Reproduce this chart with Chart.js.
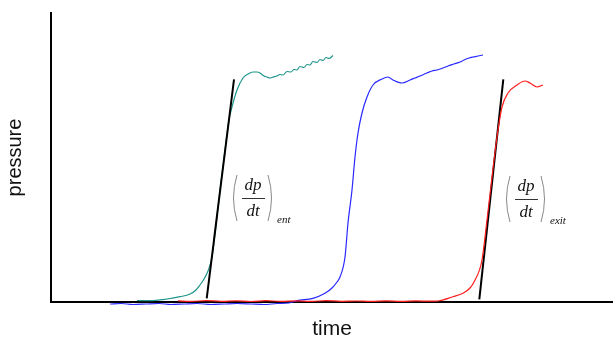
<!DOCTYPE html>
<html>
<head>
<meta charset="utf-8">
<script src="https://cdn.jsdelivr.net/npm/chart.js@4"></script>
<style>
  html, body { margin: 0; padding: 0; background: #fff; }
  #chartcontainer { width: 613px; height: 338px; }
</style>
</head>
<body>
<div id="chartcontainer"><canvas id="pressurechart"></canvas></div>
<script>
// pressure traces (time / pressure in arbitrary units)
var entTime = [86, 99, 116, 129, 139, 145, 149, 153, 157, 161, 164, 169, 174, 178, 181, 186, 192, 197, 202, 206, 209, 213, 216, 219, 222, 226, 229, 232, 236, 240, 243, 246, 249, 253, 256, 259, 262, 266, 269, 272, 275, 278, 282];
var entPressure = [1.5, 1.3, 3, 5.3, 8, 12, 17, 23, 31, 45, 68, 112, 152, 182, 195, 212, 224, 228, 230, 230, 229, 226, 225, 224, 225, 226, 227.5, 227, 230.5, 230, 232.5, 232, 235.5, 234.5, 237.5, 237, 240.5, 239.5, 242.5, 241.5, 244.5, 243.5, 246.5];

var midTime = [59, 70, 82, 95, 108, 120, 133, 146, 160, 173, 186, 200, 213, 226, 238, 246, 262, 274, 281, 286, 289, 294, 297, 301, 304, 307, 311, 316, 322, 331, 337, 342, 351, 359, 364, 369, 376, 381, 386, 392, 397, 403, 409, 413, 418, 422, 427, 432];
var midPressure = [-2, -1.5, -2.5, -2, -1.5, -2.5, -2, -1.5, -2.5, -2, -1.5, -2, -2.5, -1.5, -1, 1.3, 3.7, 8.7, 14, 20, 25, 45, 79, 112, 145, 169, 189, 205, 217, 223, 225, 222, 219, 222, 224, 226, 229, 231, 232, 234, 236, 238, 240, 242, 244, 245, 246, 247];

var exitTime = [127, 140, 155, 170, 185, 200, 215, 230, 245, 260, 275, 290, 305, 320, 335, 350, 365, 380, 387, 402, 412, 419, 423, 431, 436, 441, 446, 451, 457, 466, 474, 479, 486, 492];
var exitPressure = [1.2, 0.6, 1.4, 0.7, 1.2, 0.5, 1.3, 0.7, 1.1, 0.6, 1.4, 0.7, 1.0, 0.6, 1.2, 0.7, 1.1, 0.8, 1.0, 5.3, 8.7, 14, 20, 42, 82, 125, 165, 195, 209, 217, 221, 219, 215, 217];

// tangent lines (dp/dt)
var entTangentTime = [155.7, 183];
var entTangentPressure = [3.7, 222.7];
var exitTangentTime = [428.3, 452.3];
var exitTangentPressure = [2.7, 222.7];

// formula labels
var formulaTime = [181, 454];
var formulaPressure = [104, 103];
var formulaSub = ['ent', 'exit'];

var toPoints = function(xs, ys) {
  return xs.map(function(x, i) { return {x: x, y: ys[i]}; });
};

var traceStyle = function(color) {
  return {
    borderColor: color,
    borderWidth: 1.2,
    pointRadius: 0,
    fill: false,
    cubicInterpolationMode: 'monotone',
    clip: false
  };
};

var datasets = [
  Object.assign({label: 'entrance', data: toPoints(entTime, entPressure), order: 3}, traceStyle('rgb(30,150,140)')),
  Object.assign({label: 'middle', data: toPoints(midTime, midPressure), order: 3}, traceStyle('rgb(40,40,255)')),
  Object.assign({label: 'exit', data: toPoints(exitTime, exitPressure), order: 2}, traceStyle('rgb(255,30,30)')),
  {label: 'ent tangent', data: toPoints(entTangentTime, entTangentPressure), borderColor: '#000', borderWidth: 2, pointRadius: 0, order: 1},
  {label: 'exit tangent', data: toPoints(exitTangentTime, exitTangentPressure), borderColor: '#000', borderWidth: 2, pointRadius: 0, order: 4}
];

// draws the (dp/dt) fractions next to the tangents
var formulaPlugin = {
  id: 'formulas',
  afterDatasetsDraw: function(chart) {
    var ctx = chart.ctx;
    var xs = chart.scales.x, ys = chart.scales.y;
    ctx.save();
    for (var i = 0; i < formulaTime.length; i++) {
      var x0 = xs.getPixelForValue(formulaTime[i]);
      var yc = ys.getPixelForValue(formulaPressure[i]);
      ctx.strokeStyle = '#888';
      ctx.lineWidth = 1;
      ctx.beginPath();
      ctx.moveTo(x0 + 5, yc - 23);
      ctx.quadraticCurveTo(x0 - 2, yc, x0 + 5, yc + 23);
      ctx.moveTo(x0 + 36, yc - 23);
      ctx.quadraticCurveTo(x0 + 43, yc, x0 + 36, yc + 23);
      ctx.stroke();
      ctx.strokeStyle = '#333';
      ctx.beginPath();
      ctx.moveTo(x0 + 10, yc + 0.5);
      ctx.lineTo(x0 + 33, yc + 0.5);
      ctx.stroke();
      ctx.fillStyle = '#111';
      ctx.textAlign = 'center';
      ctx.textBaseline = 'alphabetic';
      ctx.font = 'italic 17px "Liberation Serif", "DejaVu Serif", serif';
      ctx.fillText('dp', x0 + 21, yc - 8);
      ctx.fillText('dt', x0 + 21, yc + 18);
      ctx.textAlign = 'left';
      ctx.font = 'italic 11px "Liberation Serif", "DejaVu Serif", serif';
      ctx.fillText(formulaSub[i], x0 + 45, yc + 25);
    }
    ctx.restore();
  }
};

var cty = document.getElementById('pressurechart').getContext('2d');
var pressurechart = new Chart(cty, {
  type: 'line',
  data: {datasets: datasets},
  options: {
    responsive: true,
    maintainAspectRatio: false,
    animation: false,
    layout: {padding: {top: 13, right: 0, bottom: 0, left: 0}},
    plugins: {legend: {display: false}, tooltip: {enabled: false}},
    scales: {
      x: {
        type: 'linear',
        min: 0,
        max: 562,
        z: 1,
        ticks: {display: false},
        grid: {display: false, drawTicks: false},
        border: {display: true, color: '#000', width: 2},
        title: {
          display: true,
          text: 'time',
          color: '#111',
          font: {family: '"Liberation Sans", Arial, sans-serif', size: 21, lineHeight: '18px'},
          padding: {top: 18, bottom: 0}
        }
      },
      y: {
        type: 'linear',
        min: 0,
        max: 289,
        z: 1,
        ticks: {display: false},
        grid: {display: false, drawTicks: false},
        border: {display: true, color: '#000', width: 2},
        title: {
          display: true,
          text: 'pressure',
          color: '#111',
          font: {family: '"Liberation Sans", Arial, sans-serif', size: 20, lineHeight: 1.2},
          padding: {top: 3, bottom: 24}
        }
      }
    }
  },
  plugins: [formulaPlugin]
});
</script>
</body>
</html>
